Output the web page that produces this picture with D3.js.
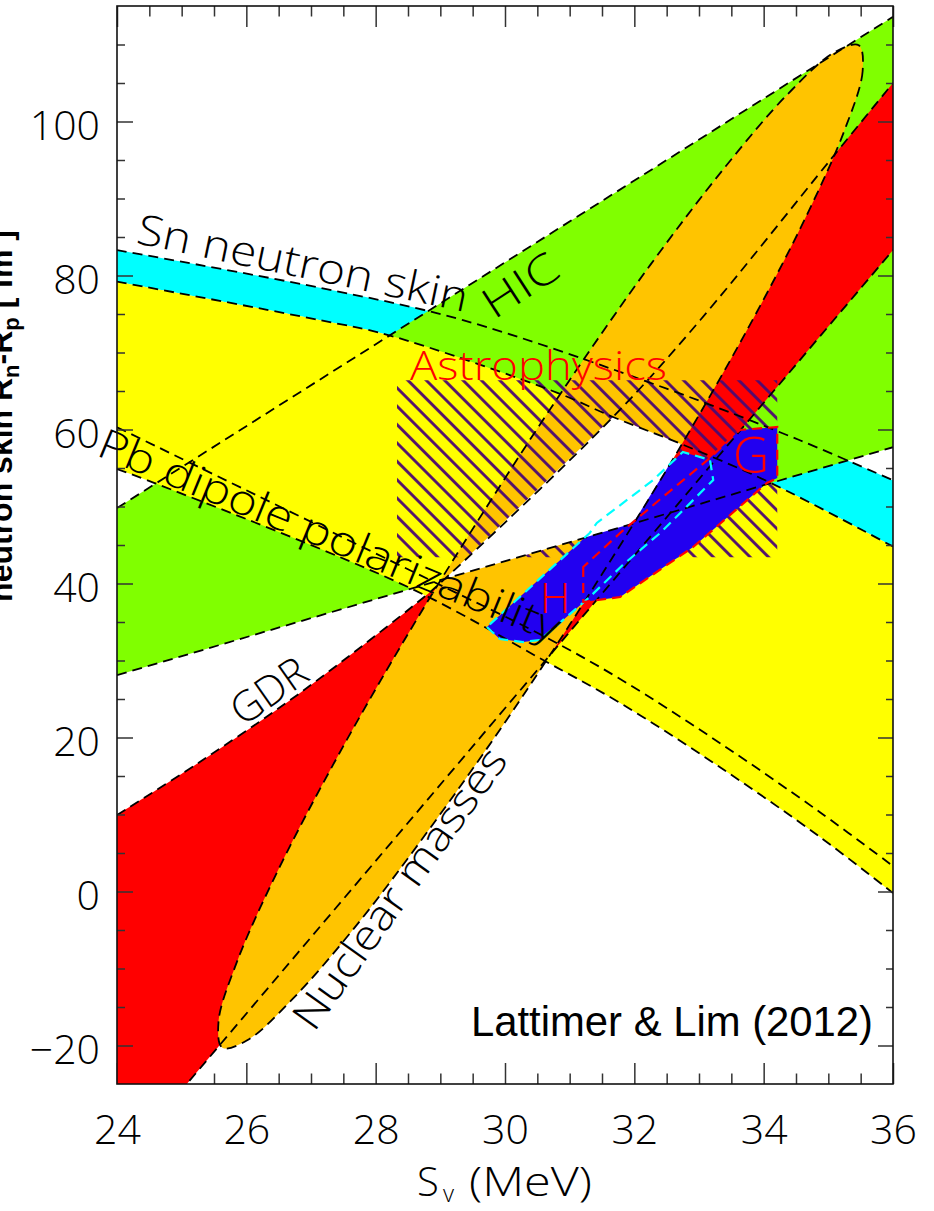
<!DOCTYPE html>
<html>
<head>
<meta charset="utf-8">
<script src="https://cdn.jsdelivr.net/npm/d3@7"></script>
<style>
  html, body { margin: 0; padding: 0; background: #fff; }
  svg { display: block; }
</style>
</head>
<body>
<svg id="chart" width="934" height="1211"></svg>
<script>
// ---- axes ----
const xDomain = [24, 36];
const yDomain = [-25, 115];
const xMajorTicks = [24, 26, 28, 30, 32, 34, 36];
const xMinorTicks = [24.5, 25, 25.5, 26.5, 27, 27.5, 28.5, 29, 29.5, 30.5, 31, 31.5, 32.5, 33, 33.5, 34.5, 35, 35.5];
const yMajorTicks = [-20, 0, 20, 40, 60, 80, 100];
const yMinorTicks = [-15, -10, -5, 5, 10, 15, 25, 30, 35, 45, 50, 55, 65, 70, 75, 85, 90, 95, 105, 110];

// ---- constraint boundaries, [S_v (MeV), value] ----
// Sn neutron skin band
const snUpper = [[24, 83.3], [27.14, 78.4], [29.35, 74.2], [32.5, 65.3], [34.56, 58.6], [36, 53.4]];
const snLower = [[24, 79.2], [27.14, 74.2], [28.18, 72.3], [30.8, 64.8], [31.67, 61.62], [32.73, 58.1], [34.1, 53.1], [36, 44.8]];
// heavy-ion collisions
const hicUpper = [[24, 49.8], [36, 113.6]];
const hicLower = [[24, 28.1], [36, 57.7]];
// Pb dipole polarizability
const pbUpper = [[24, 60.3], [28.84, 40.45], [30.59, 33.2], [31.78, 27.6], [33.32, 19.3], [34.87, 10.3], [36, 3.3]];
const pbLower = [[24, 54.87], [24.66, 52.79], [28.53, 39.42], [30.59, 30.06], [31.78, 24.48], [33.32, 16.17], [34.87, 7.08], [36, -0.2]];
// giant dipole resonances
const gdrLeft = [[24, 9.94], [25.28, 16.82], [26.83, 25.78], [28.75, 38.25], [29.07, 40.6], [31.67, 61.62], [33.02, 74.22], [35.03, 95.0], [36, 105.0]];
const gdrRight = [[24, -35.7], [36, 83.3]];
// nuclear masses contour
const massContour = [
  [35.47, 109.9], [35.53, 106.5], [35.25, 98.86], [34.65, 87.55], [33.77, 73.33], [32.67, 57.16],
  [31.42, 40.15], [30.12, 23.45], [28.84, 8.21], [27.69, -4.53], [26.72, -13.92], [26.02, -19.29],
  [25.63, -20.29], [25.57, -16.88], [25.85, -9.24], [26.45, 2.07], [27.33, 16.29], [28.43, 32.46],
  [29.68, 49.47], [30.98, 66.17], [32.25, 81.41], [33.41, 94.15], [34.37, 103.54], [35.08, 108.9]
];
// astrophysical (neutron star) window
const astroBox = [[28.33, 66.4], [34.21, 66.4], [34.21, 43.4], [28.33, 43.4]];
// experimental overlap region
const overlapRegion = [[29.07, 40.6], [31.67, 61.62], [32.73, 58.1], [32.67, 57.16], [31.98, 47.82]];
// neutron matter: H (Hebeler et al.) and G (Gandolfi et al.)
const regionH = [[29.72, 34.35], [29.92, 32.79], [30.28, 32.4], [30.54, 32.66], [31.31, 38.25], [31.82, 42.4],
  [32.4, 46.56], [33.22, 53.44], [33.17, 56.04], [32.75, 57.08], [32.29, 53.44], [31.42, 47.86], [31.31, 46.56]];
const regionG = [[31.21, 42.14], [31.21, 37.6], [31.78, 38.25], [32.91, 44.74], [34.05, 53.05], [34.21, 53.7],
  [34.21, 60.32], [33.63, 59.94], [33.17, 56.3], [32.44, 51.23], [31.78, 46.56]];

// ---- layout ----
const plot = { left: 117, right: 893, top: 6, bottom: 1084 };
const x = d3.scaleLinear().domain(xDomain).range([plot.left, plot.right]);
const y = d3.scaleLinear().domain(yDomain).range([plot.bottom, plot.top]);

const thinFont = "'Open Sans', 'DejaVu Sans', sans-serif";
const colors = {
  cyan: "#00ffff", green: "#80ff00", yellow: "#ffff00", red: "#ff0000",
  orange: "#ffc400", blue: "#2200f0", hatch: "#4e0a70"
};

const svg = d3.select("#chart");
const defs = svg.append("defs");
defs.append("clipPath").attr("id", "plotClip")
  .append("rect").attr("x", plot.left).attr("y", plot.top)
  .attr("width", plot.right - plot.left).attr("height", plot.bottom - plot.top);
const hatch = defs.append("pattern").attr("id", "hatch")
  .attr("patternUnits", "userSpaceOnUse").attr("width", 13).attr("height", 13)
  .attr("patternTransform", "rotate(-45)");
hatch.append("line").attr("x1", 6.5).attr("y1", -1).attr("x2", 6.5).attr("y2", 14)
  .attr("stroke", colors.hatch).attr("stroke-width", 2.8);

const curve = d3.line().x(d => x(d[0])).y(d => y(d[1])).curve(d3.curveCatmullRom.alpha(0.5));
const closedCurve = d3.line().x(d => x(d[0])).y(d => y(d[1])).curve(d3.curveCatmullRomClosed.alpha(0.5));
const poly = d3.line().x(d => x(d[0])).y(d => y(d[1])).curve(d3.curveLinearClosed);
const band = (a, b) => curve(a) + "L" + curve(b.slice().reverse()).slice(1) + "Z";

function styleAxis(g, size, color) {
  g.select(".domain").remove();
  g.selectAll(".tick line").attr("stroke", color).attr("stroke-width", 1.5);
  g.attr("font-family", thinFont).attr("font-weight", 300).attr("font-size", size);
  g.selectAll("text").attr("fill", "#000");
}

// bottom axis sits underneath the coloured regions
const xb = svg.append("g").attr("transform", `translate(0,${plot.bottom})`);
xb.append("g").call(d3.axisBottom(x).tickValues(xMinorTicks).tickSize(-10.5).tickFormat(""))
  .call(g => styleAxis(g, 41, "#333"));
xb.append("g").call(d3.axisBottom(x).tickValues(xMajorTicks).tickSize(-21).tickPadding(31).tickFormat(d3.format("d")))
  .call(g => styleAxis(g, 41, "#333"));

// ---- coloured constraint regions ----
const regions = svg.append("g").attr("clip-path", "url(#plotClip)");
regions.append("path").attr("d", band(snUpper, snLower)).attr("fill", colors.cyan);
regions.append("path").attr("d", band(hicLower, hicUpper)).attr("fill", colors.green);
regions.append("path").attr("d", band(snLower, pbLower)).attr("fill", colors.yellow);
regions.append("path").attr("d", band(gdrRight, gdrLeft)).attr("fill", colors.red);
regions.append("path").attr("d", closedCurve(massContour)).attr("fill", colors.orange);
regions.append("path").attr("d", poly(astroBox)).attr("fill", "url(#hatch)");
regions.append("path").attr("d", poly(regionH)).attr("fill", colors.blue);
regions.append("path").attr("d", poly(regionG)).attr("fill", colors.blue);
regions.append("path").attr("d", poly(overlapRegion)).attr("fill", "#fff");

// dashed boundaries
const dashed = svg.append("g").attr("clip-path", "url(#plotClip)")
  .attr("fill", "none").attr("stroke", "#000").attr("stroke-width", 1.8).attr("stroke-dasharray", "10,6");
[snUpper, snLower, hicUpper, hicLower, pbUpper, pbLower, gdrLeft, gdrRight].forEach(b =>
  dashed.append("path").attr("d", curve(b)));
dashed.append("path").attr("d", closedCurve(massContour));

svg.append("path").attr("d", poly(regionH)).attr("fill", "none")
  .attr("stroke", colors.cyan).attr("stroke-width", 2.2).attr("stroke-dasharray", "10,6");
svg.append("path").attr("d", poly(regionG)).attr("fill", "none")
  .attr("stroke", colors.red).attr("stroke-width", 2.2).attr("stroke-dasharray", "10,6");

// ---- labels on the plot ----
function label(text, px, py, angle, opts = {}) {
  const t = svg.append("text")
    .attr("transform", `translate(${px},${py}) rotate(${angle})`)
    .attr("font-family", opts.family || thinFont)
    .attr("font-weight", opts.weight || 300)
    .attr("font-size", opts.size || 42)
    .attr("fill", opts.color || "#000")
    .text(text);
  if (opts.length) t.attr("textLength", opts.length).attr("lengthAdjust", "spacingAndGlyphs");
  return t;
}
label("Sn neutron skin", 135, 243, 11.8, { length: 337 });
label("HIC", 494, 320, -33, { length: 82 });
label("Pb dipole polarizability", 95, 455, 22.3, { length: 495 });
label("GDR", 243, 727, -35, { length: 84 });
label("Nuclear masses", 314, 1033, -54.4, { length: 335 });
label("Astrophysics", 410, 380, 0, { color: colors.red, size: 40, length: 257 });
label("H", 540, 613, 0, { color: colors.red, size: 42 });
label("G", 733, 473, 0, { color: colors.red, size: 50 });
label("Lattimer & Lim (2012)", 471, 1036, 0,
  { family: "'Liberation Sans', Arial, Helvetica, sans-serif", weight: 400, size: 43, length: 402 });

// ---- remaining axes and frame ----
const yl = svg.append("g").attr("transform", `translate(${plot.left},0)`);
yl.append("g").call(d3.axisLeft(y).tickValues(yMinorTicks).tickSize(-8).tickFormat(""))
  .call(g => styleAxis(g, 41, "#333"));
yl.append("g").call(d3.axisLeft(y).tickValues(yMajorTicks).tickSize(-16).tickPadding(17).tickFormat(d3.format("d")))
  .call(g => styleAxis(g, 41, "#333"))
  .call(g => g.selectAll("text").attr("dy", "0.45em"));

const xt = svg.append("g").attr("transform", `translate(0,${plot.top})`);
xt.append("g").call(d3.axisTop(x).tickValues(xMinorTicks).tickSize(-10.5).tickFormat(""))
  .call(g => styleAxis(g, 41, "#333"));
xt.append("g").call(d3.axisTop(x).tickValues(xMajorTicks).tickSize(-21).tickFormat(""))
  .call(g => styleAxis(g, 41, "#333"));

const yr = svg.append("g").attr("transform", `translate(${plot.right},0)`);
yr.append("g").call(d3.axisRight(y).tickValues(yMinorTicks).tickSize(-7).tickFormat(""))
  .call(g => styleAxis(g, 41, "#333"));
yr.append("g").call(d3.axisRight(y).tickValues(yMajorTicks).tickSize(-15).tickFormat(""))
  .call(g => styleAxis(g, 41, "#333"));

svg.append("rect").attr("x", plot.left).attr("y", plot.top)
  .attr("width", plot.right - plot.left).attr("height", plot.bottom - plot.top)
  .attr("fill", "none").attr("stroke", "#111").attr("stroke-width", 1.6);

// axis titles
const titleStyle = t => t.attr("font-family", thinFont).attr("font-weight", 300).attr("fill", "#000");
svg.append("text").attr("x", 417).attr("y", 1196).attr("font-size", 40).call(titleStyle).text("S");
svg.append("text").attr("x", 443).attr("y", 1202).attr("font-size", 24).call(titleStyle).text("v");
svg.append("text").attr("x", 469).attr("y", 1196).attr("font-size", 40).call(titleStyle)
  .attr("textLength", 123).attr("lengthAdjust", "spacingAndGlyphs").text("(MeV)");

const yTitle = svg.append("text").attr("transform", "translate(12,416) rotate(-90)")
  .attr("text-anchor", "middle").attr("font-family", "'Liberation Sans', Arial, sans-serif")
  .attr("font-weight", 700).attr("font-size", 32).attr("fill", "#000");
yTitle.append("tspan").text("neutron skin R");
yTitle.append("tspan").attr("font-size", 22).attr("dy", 7).text("n");
yTitle.append("tspan").attr("dy", -7).text("-R");
yTitle.append("tspan").attr("font-size", 22).attr("dy", 7).text("p");
yTitle.append("tspan").attr("dy", -7).text(" [ fm ]");
</script>
</body>
</html>
